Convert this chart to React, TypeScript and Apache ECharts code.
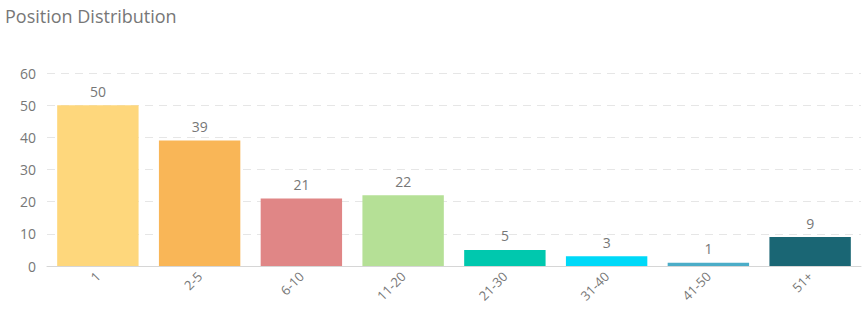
import React, { useEffect, useRef } from "react";
import * as echarts from "echarts";

const categories = ["1", "2-5", "6-10", "11-20", "21-30", "31-40", "41-50", "51+"];
const values = [50, 39, 21, 22, 5, 3, 1, 9];
const colors = ["#FED77C", "#F9B657", "#E08686", "#B5E096", "#00C8AE", "#00D9F8", "#4BADC8", "#1A6674"];
const yTicks = { min: 0, max: 60, interval: 10 };

export default function App() {
  const ref = useRef<HTMLDivElement>(null);
  useEffect(() => {
    if (!ref.current) return;
    const chart = echarts.init(ref.current, undefined, { renderer: "svg" });
    chart.setOption({
      animation: false,
      textStyle: { fontFamily: "Open Sans" },
      title: {
        text: "Position Distribution",
        left: 0,
        top: 2,
        textStyle: { fontSize: 18, fontWeight: "normal", color: "#777", fontFamily: "Open Sans" },
      },
      grid: { left: 47, right: 5, top: 73, bottom: 44 },
      xAxis: {
        type: "category",
        data: categories,
        axisLine: { lineStyle: { color: "#d6d6d6" } },
        axisTick: { alignWithLabel: true, lineStyle: { color: "#d6d6d6" } },
        axisLabel: { rotate: 45, color: "#777", fontSize: 13, margin: 8 },
      },
      yAxis: {
        type: "value",
        min: yTicks.min,
        max: yTicks.max,
        interval: yTicks.interval,
        axisLine: { show: false },
        axisTick: { show: false },
        axisLabel: { color: "#777", fontSize: 14, margin: 11 },
        splitLine: { lineStyle: { type: [8, 6], color: "#e6e6e6" } },
      },
      series: [
        {
          type: "bar",
          data: values.map((v, i) => ({ value: v, itemStyle: { color: colors[i] } })),
          barCategoryGap: "20%",
          label: { show: true, position: "top", color: "#777", fontSize: 14, distance: 7 },
        },
      ],
    });
    return () => chart.dispose();
  }, []);
  return (
    <div
      ref={ref}
      style={{ position: "absolute", left: 0, top: 0, width: 866, height: 310 }}
    />
  );
}
